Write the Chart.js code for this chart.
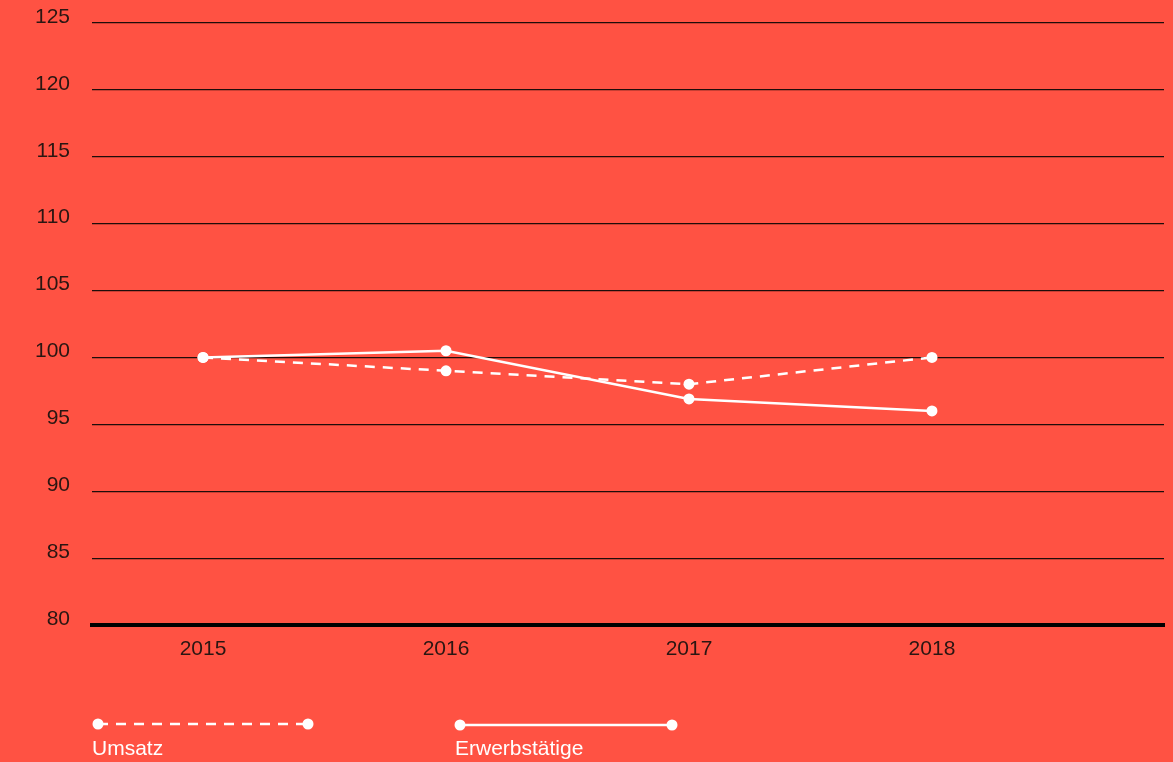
<!DOCTYPE html>
<html>
<head>
<meta charset="utf-8">
<script src="https://cdn.jsdelivr.net/npm/chart.js@4/dist/chart.umd.min.js"></script>
<style>
  html, body { margin: 0; padding: 0; background: #FF5243; }
  #wrap { position: relative; width: 1173px; height: 762px; }
  canvas { display: block; }
</style>
</head>
<body>
<div id="wrap"><canvas id="c" width="1173" height="762"></canvas></div>
<script>
const years = [2015, 2016, 2017, 2018];
const umsatz = [100, 99, 98, 100];
const erwerbstaetige = [100, 100.5, 96.9, 96];
const seriesNames = ['Umsatz', 'Erwerbstätige'];
const yMin = 80, yMax = 125, yStep = 5;

const FONT = "'Liberation Sans', 'DejaVu Sans', sans-serif";

const legendPlugin = {
  id: 'customLegend',
  afterDraw(chart) {
    const ctx = chart.ctx;
    const items = [
      { ds: chart.data.datasets[0], x1: 98, x2: 308, y: 724, tx: 92 },
      { ds: chart.data.datasets[1], x1: 460, x2: 672, y: 725, tx: 455 }
    ];
    ctx.save();
    items.forEach(it => {
      ctx.strokeStyle = '#fff';
      ctx.lineWidth = 2.5;
      ctx.setLineDash(it.ds.borderDash || []);
      ctx.beginPath();
      ctx.moveTo(it.x1, it.y);
      ctx.lineTo(it.x2, it.y);
      ctx.stroke();
      ctx.setLineDash([]);
      ctx.fillStyle = '#fff';
      [it.x1, it.x2].forEach(px => {
        ctx.beginPath();
        ctx.arc(px, it.y, 5.5, 0, Math.PI * 2);
        ctx.fill();
      });
      ctx.font = "21px " + FONT;
      ctx.textBaseline = 'alphabetic';
      ctx.textAlign = 'left';
      ctx.fillText(it.ds.label, it.tx, 755);
    });
    ctx.restore();
  }
};

new Chart(document.getElementById('c'), {
  type: 'line',
  data: {
    datasets: [
      {
        label: seriesNames[0],
        data: years.map((y, i) => ({ x: y, y: umsatz[i] })),
        borderColor: '#fff',
        backgroundColor: '#fff',
        borderWidth: 2.5,
        borderDash: [10, 8],
        pointRadius: 5.5,
        pointBackgroundColor: '#fff',
        pointBorderWidth: 0,
        tension: 0
      },
      {
        label: seriesNames[1],
        data: years.map((y, i) => ({ x: y, y: erwerbstaetige[i] })),
        borderColor: '#fff',
        backgroundColor: '#fff',
        borderWidth: 2.5,
        pointRadius: 5.5,
        pointBackgroundColor: '#fff',
        pointBorderWidth: 0,
        tension: 0
      }
    ]
  },
  options: {
    responsive: false,
    animation: false,
    layout: { padding: { top: 23, right: 9, bottom: 100, left: 0 } },
    plugins: { legend: { display: false }, tooltip: { enabled: false } },
    scales: {
      x: {
        type: 'linear',
        min: 2014.543,
        max: 2018.955,
        afterBuildTicks: (axis) => { axis.ticks = years.map(v => ({ value: v })); },
        afterFit: (axis) => { axis.height = 37; axis.paddingLeft = 0; axis.paddingRight = 0; },
        grid: { display: false, drawTicks: false },
        border: { display: true, color: '#000', width: 4 },
        ticks: {
          padding: 12,
          color: '#2a1612',
          font: { family: FONT, size: 21 },
          callback: (v) => String(v),
          maxRotation: 0,
          autoSkip: false
        }
      },
      y: {
        min: yMin,
        max: yMax,
        afterFit: (axis) => { axis.width = 92; axis.paddingTop = 0; axis.paddingBottom = 0; },
        grid: { color: '#1e0d0a', lineWidth: 1.2, drawTicks: false },
        border: { display: false },
        ticks: {
          stepSize: yStep,
          padding: 22,
          labelOffset: -6,
          color: '#2a1612',
          font: { family: FONT, size: 21 }
        }
      }
    }
  },
  plugins: [legendPlugin]
});
</script>
</body>
</html>
